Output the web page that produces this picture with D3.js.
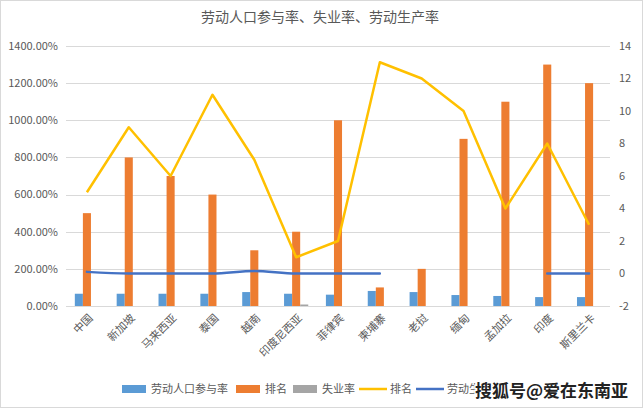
<!DOCTYPE html>
<html><head><meta charset="utf-8">
<script src="https://cdn.jsdelivr.net/npm/d3@7/dist/d3.min.js"></script>
<style>
body{margin:0;background:#fff;}
text{font-family:"Microsoft YaHei","Noto Sans CJK SC",sans-serif;}
</style></head>
<body><svg id="c" width="643" height="409"></svg>
<script>
const categories = ["中国","新加坡","马来西亚","泰国","越南","印度尼西亚","菲律宾","柬埔寨","老挝","缅甸","孟加拉","印度","斯里兰卡"];
const participation = [66,66,66,66,75,66,61,81,75,59,54,48,48];      // %
const rankBar = [500,800,700,600,300,400,1000,100,200,900,1100,1300,1200]; // %
const unemployment = [0,0,0,0,0,8,0,0,0,0,0,0,0];                 // %
const rankLine = [5,9,6,11,7,1,2,13,12,10,4,8,3];
const productivity = [0.1,0,0,0,0.15,0,0,0,null,null,null,0,0];
const leftTicks = [0,200,400,600,800,1000,1200,1400];
const rightTicks = [-2,0,2,4,6,8,10,12,14];

const svg = d3.select("#c");
const W=643,H=409;
const L=66,R=610,T=46,B=306;
const grey="#595959";

svg.append("rect").attr("x",0.5).attr("y",0.5).attr("width",W-1).attr("height",H-2)
  .attr("fill","#fff").attr("stroke","#d9d9d9");

svg.append("text").attr("x",320).attr("y",22).attr("text-anchor","middle")
  .attr("font-size",14).attr("fill",grey).text("劳动人口参与率、失业率、劳动生产率");

const x = d3.scaleBand().domain(categories).range([L,R]).padding(0);
const bw = x.bandwidth();
const gap = bw*2.19/5.19/2;
const seriesKeys=["p","r","u"];
const x1 = d3.scaleBand().domain(seriesKeys).range([gap,bw-gap]).padding(0);
const yL = d3.scaleLinear().domain([0,1400]).range([B,T]);
const yR = d3.scaleLinear().domain([-2,14]).range([B,T]);

// gridlines
svg.append("g").selectAll("line").data(leftTicks).join("line")
  .attr("x1",L).attr("x2",R).attr("y1",d=>Math.round(yL(d))+0.5).attr("y2",d=>Math.round(yL(d))+0.5)
  .attr("stroke","#d9d9d9").attr("stroke-width",1);

// left axis labels
svg.append("g").selectAll("text").data(leftTicks).join("text")
  .attr("x",58).attr("y",d=>yL(d)).attr("dy","0.35em").attr("text-anchor","end")
  .attr("font-size",11).attr("fill",grey).text(d=>d3.format(".2f")(d)+"%");
// right axis labels
svg.append("g").selectAll("text").data(rightTicks).join("text")
  .attr("x",619).attr("y",d=>yR(d)).attr("dy","0.35em").attr("text-anchor","start")
  .attr("font-size",11).attr("fill",grey).text(d=>d);

const colors={p:"#5B9BD5",r:"#ED7D31",u:"#A5A5A5"};
const vals={p:participation,r:rankBar,u:unemployment};
const gBars=svg.append("g");
seriesKeys.forEach(k=>{
  gBars.selectAll(null).data(categories).join("rect")
    .attr("x",c=>x(c)+x1(k)).attr("width",x1.bandwidth())
    .attr("y",(c,i)=>yL(vals[k][i])).attr("height",(c,i)=>B-yL(vals[k][i]))
    .attr("fill",colors[k]);
});

// lines
const lineR = d3.line().x((d,i)=>x(categories[i])+bw/2).y(d=>yR(d));
svg.append("path").datum(rankLine).attr("d",lineR).attr("fill","none")
  .attr("stroke","#FFC000").attr("stroke-width",2.5).attr("stroke-linejoin","round");
const lineP = d3.line().defined(d=>d!==null).x((d,i)=>x(categories[i])+bw/2).y(d=>yR(d)).curve(d3.curveMonotoneX);
svg.append("path").datum(productivity).attr("d",lineP).attr("fill","none")
  .attr("stroke","#4472C4").attr("stroke-width",2.5).attr("stroke-linecap","round");

// x labels
svg.append("g").selectAll("text").data(categories).join("text")
  .attr("transform",c=>`translate(${x(c)+bw/2+4},${316}) rotate(-45)`)
  .attr("text-anchor","end").attr("dy","0.35em")
  .attr("font-size",11).attr("fill",grey).text(c=>c);

// legend
const lg=svg.append("g");
const items=[
  {t:"劳动人口参与率",type:"rect",c:"#5B9BD5",x:122},
  {t:"排名",type:"rect",c:"#ED7D31",x:236},
  {t:"失业率",type:"rect",c:"#A5A5A5",x:293},
  {t:"排名",type:"line",c:"#FFC000",x:359},
  {t:"劳动生产率",type:"line",c:"#4472C4",x:416}
];
items.forEach(it=>{
  if(it.type==="rect"){
    lg.append("rect").attr("x",it.x).attr("y",385).attr("width",24).attr("height",8).attr("fill",it.c);
  } else {
    lg.append("line").attr("x1",it.x).attr("x2",it.x+28).attr("y1",389).attr("y2",389)
      .attr("stroke",it.c).attr("stroke-width",2.5);
  }
  lg.append("text").attr("x",it.x+(it.type==="rect"?29:31)).attr("y",389).attr("dy","0.35em")
    .attr("font-size",11).attr("fill",grey).text(it.t);
});

// watermark
svg.append("text").attr("x",475).attr("y",391).attr("dy","0.35em")
  .attr("font-size",17).attr("font-weight","bold").attr("fill","#222")
  .attr("stroke","#fff").attr("stroke-width",3).attr("paint-order","stroke")
  .text("搜狐号@爱在东南亚");
</script></body></html>
